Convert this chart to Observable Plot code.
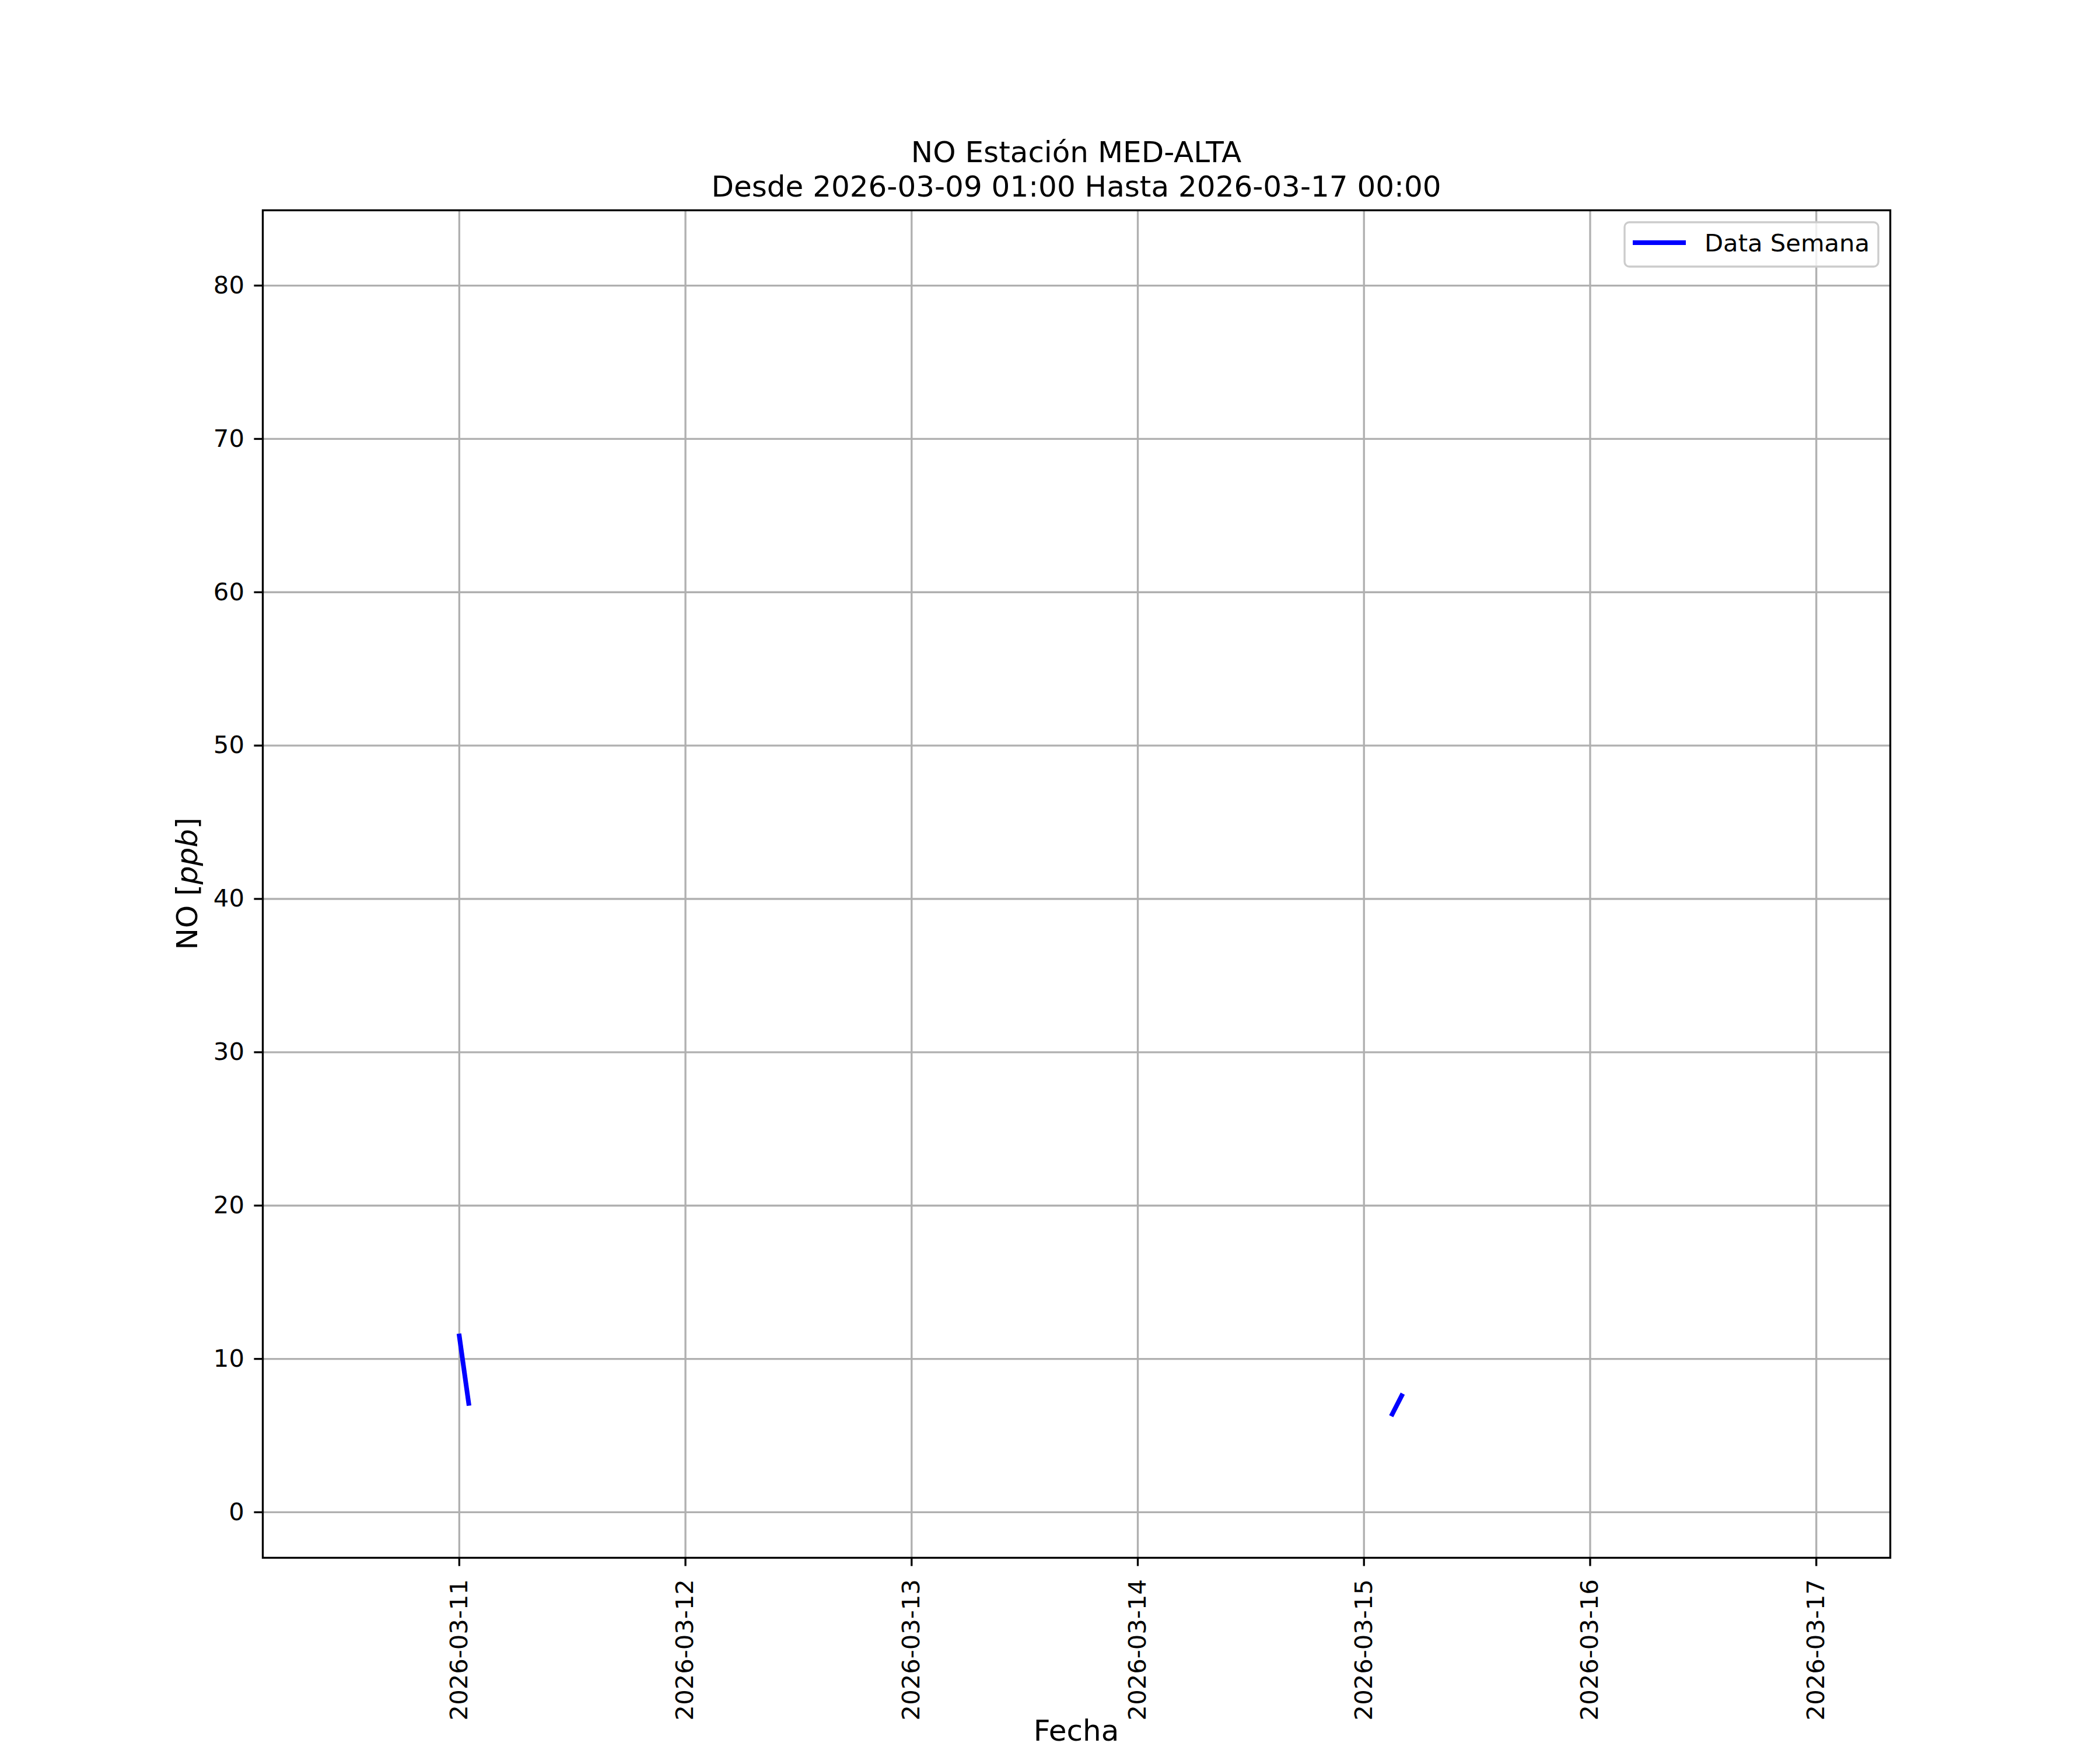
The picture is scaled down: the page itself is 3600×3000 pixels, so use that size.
<!DOCTYPE html>
<html>
<head>
<meta charset="utf-8">
<script src="https://cdn.jsdelivr.net/npm/d3@7"></script>
<script src="https://cdn.jsdelivr.net/npm/@observablehq/plot@0.6"></script>
<style>
  html, body { margin: 0; padding: 0; background: white; }
  #chart svg { display: block; }
</style>
</head>
<body>
<div id="chart"></div>
<script>
// ---- Data ----
const times = ["2026-03-11T00:00:00Z", "2026-03-11T01:00:00Z", "2026-03-15T03:00:00Z", "2026-03-15T04:00:00Z"];
const values = [11.5, 7.1, 6.4, 7.6];
const segments = [1, 1, 2, 2];
const xTickLabels = ["2026-03-11", "2026-03-12", "2026-03-13", "2026-03-14", "2026-03-15", "2026-03-16", "2026-03-17"];
const yTicks = [0, 10, 20, 30, 40, 50, 60, 70, 80];
const dataRange = ["2026-03-10T11:00:00Z", "2026-03-17T00:00:00Z"];
const yDomain = [-2.97, 84.91];
const titleLines = ["NO Estación MED-ALTA", "Desde 2026-03-09 01:00 Hasta 2026-03-17 00:00"];
const xLabel = "Fecha";
const legendLabel = "Data Semana";

// ---- Build ----
const rows = times.map((t, i) => ({t: new Date(t), v: values[i], seg: segments[i]}));
const xTicks = xTickLabels.map(s => new Date(s + "T00:00:00Z"));
const r0 = new Date(dataRange[0]).getTime(), r1 = new Date(dataRange[1]).getTime();
const pad = (r1 - r0) * 0.05;
const xDomain = [new Date(r0 - pad), new Date(r1 + pad)];

const W = 3600, H = 3000, mL = 450, mR = 360, mT = 360, mB = 330;
const lw = 3.33;       // 0.8pt at 300 dpi
const fs = 41.7;       // 10pt
const fsL = 50;        // 12pt
const FONT = "DejaVu Sans";

const chart = Plot.plot({
  width: W, height: H,
  marginLeft: mL, marginRight: mR, marginTop: mT, marginBottom: mB,
  x: {type: "utc", domain: xDomain},
  y: {domain: yDomain},
  style: {fontFamily: FONT, fontSize: fs + "px", background: "white", color: "black"},
  marks: [
    Plot.gridX(xTicks, {stroke: "#b0b0b0", strokeOpacity: 1, strokeWidth: lw}),
    Plot.gridY(yTicks, {stroke: "#b0b0b0", strokeOpacity: 1, strokeWidth: lw}),
    Plot.line(rows, {x: "t", y: "v", z: "seg", stroke: "#0000ff", strokeWidth: 8, strokeLinecap: "square", clip: true}),
    Plot.axisX(xTicks, {tickSize: 14.6, tickPadding: 22, tickRotate: -90, tickFormat: d3.utcFormat("%Y-%m-%d"),
      fontSize: fs, strokeWidth: lw, label: null, fill: "black", stroke: "black"}),
    Plot.axisY(yTicks, {tickSize: 14.6, tickPadding: 17, fontSize: fs, strokeWidth: lw, label: null, fill: "black", stroke: "black"}),
    Plot.frame({stroke: "black", strokeWidth: lw})
  ]
});

const svg = d3.select(chart);
const cx = mL + (W - mL - mR) / 2;
const cy = mT + (H - mT - mB) / 2;

// Title (two lines)
svg.append("text").attr("x", cx).attr("y", 278).attr("text-anchor", "middle")
  .attr("font-family", FONT).attr("font-size", fsL).attr("fill", "black").text(titleLines[0]);
svg.append("text").attr("x", cx).attr("y", 337).attr("text-anchor", "middle")
  .attr("font-family", FONT).attr("font-size", fsL).attr("fill", "black").text(titleLines[1]);

// X label
svg.append("text").attr("x", cx).attr("y", 2984).attr("text-anchor", "middle")
  .attr("font-family", FONT).attr("font-size", fsL).attr("fill", "black").text(xLabel);

// Y label with italic unit
const yl = svg.append("text").attr("transform", `translate(338,${cy}) rotate(-90)`).attr("text-anchor", "middle")
  .attr("font-family", FONT).attr("font-size", fsL).attr("fill", "black");
yl.append("tspan").text("NO [");
yl.append("tspan").attr("font-style", "italic").text("ppb");
yl.append("tspan").text("]");

// Legend
const lgW = 435, lgH = 76;
const lgX = W - mR - 20 - lgW, lgY = mT + 21;
const lg = svg.append("g");
lg.append("rect").attr("x", lgX).attr("y", lgY).attr("width", lgW).attr("height", lgH).attr("rx", 8)
  .attr("fill", "white").attr("fill-opacity", 0.8).attr("stroke", "#cccccc").attr("stroke-width", lw);
lg.append("line").attr("x1", lgX + 14).attr("x2", lgX + 105).attr("y1", lgY + 35).attr("y2", lgY + 35)
  .attr("stroke", "#0000ff").attr("stroke-width", 8);
lg.append("text").attr("x", lgX + 137).attr("y", lgY + 50).attr("text-anchor", "start")
  .attr("font-family", FONT).attr("font-size", fs).attr("fill", "black").text(legendLabel);

document.getElementById("chart").appendChild(chart);
</script>
</body>
</html>
